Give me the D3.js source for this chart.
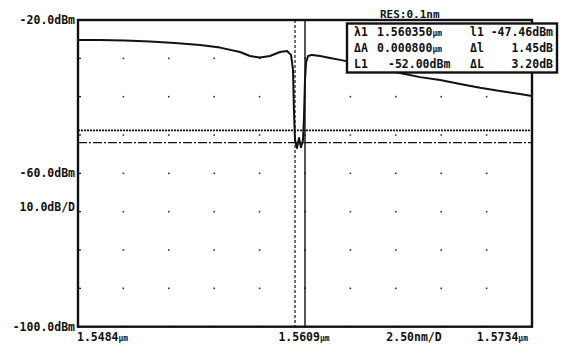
<!DOCTYPE html>
<html>
<head>
<meta charset="utf-8">
<script src="https://cdn.jsdelivr.net/npm/d3@7"></script>
<style>
  html, body { margin: 0; padding: 0; background: #fff; }
  svg { display: block; }
  text { font-family: "DejaVu Sans Mono", "Liberation Mono", monospace; font-weight: bold; fill: #111; }
</style>
</head>
<body>
<svg id="chart" width="563" height="346"></svg>
<script>
// Spectrum trace: wavelength (µm) and level (dBm)
const traceWavelength = [
  1.54840, 1.54961, 1.55099, 1.55236, 1.55374, 1.55512, 1.55622, 1.55732,
  1.55787, 1.55842, 1.55897, 1.55952, 1.55991, 1.56013, 1.56024, 1.56029,
  1.56035, 1.56046, 1.56057, 1.56068, 1.56079, 1.56084, 1.56090, 1.56096,
  1.56107, 1.56129, 1.56173, 1.56228, 1.56283, 1.56393, 1.56503, 1.56613,
  1.56723, 1.56834, 1.56944, 1.57054, 1.57164, 1.57274, 1.57340
];
const traceLevel = [
  -25.2, -25.2, -25.35, -25.6, -26.0, -26.5, -27.2, -28.35,
  -29.4, -29.8, -29.4, -28.35, -28.1, -29.1, -33.0, -43.5,
  -51.3, -53.4, -50.8, -53.2, -51.3, -46.1, -35.6, -31.0,
  -29.4, -29.1, -29.4, -29.9, -30.4, -31.5, -32.8, -33.8,
  -34.9, -35.65, -36.7, -37.7, -38.5, -39.3, -39.8
];

// Instrument settings
const startWl = 1.5484, centerWl = 1.5609, stopWl = 1.5734;
const refLevel = -20, bottomLevel = -100, dbPerDiv = 10;
const xDivisions = 10, yDivisions = 8;

// Markers
const markerWl = 1.560350;       // λ1
const markerLevel = -47.46;      // l1
const deltaWl = 0.000800;        // ΔA
const deltaLevelMarker = 1.45;   // Δl
const lineL1 = -52.00;           // L1
const deltaL = 3.20;             // ΔL

// Axis texts
const yLabels = [
  { v: -20, t: "-20.0dBm" },
  { v: -60, t: "-60.0dBm" },
  { v: -100, t: "-100.0dBm" }
];
const scaleLabel = "10.0dB/D";
const xLabelStart = "1.5484", xLabelCenter = "1.5609", xLabelStop = "1.5734";
const spanLabel = "2.50nm/D";
const resLabel = "RES:0.1nm";

const svg = d3.select("#chart");
const L = 78, R = 532, T = 20, B = 326.7;

const x = d3.scaleLinear().domain([startWl, stopWl]).range([L, R]);
const y = d3.scaleLinear().domain([bottomLevel, refLevel]).range([B, T]);

// grid dots at every division intersection
const xDivVals = d3.range(xDivisions + 1).map(i => startWl + i * (stopWl - startWl) / xDivisions);
const yDivVals = d3.range(yDivisions + 1).map(j => bottomLevel + j * dbPerDiv);
const gridPts = [];
xDivVals.forEach(xv => yDivVals.forEach(yv => gridPts.push([xv, yv])));
svg.append("g").selectAll("rect").data(gridPts).join("rect")
  .attr("x", d => x(d[0]) - 0.8).attr("y", d => y(d[1]) - 0.8)
  .attr("width", 1.6).attr("height", 1.6).attr("fill", "#333");

// left-axis division ticks
svg.append("g").selectAll("line").data(yDivVals).join("line")
  .attr("x1", L).attr("x2", L + 3)
  .attr("y1", d => y(d)).attr("y2", d => y(d))
  .attr("stroke", "#111").attr("stroke-width", 1.2);

// level lines: L1 and L1 + ΔL
svg.append("line")
  .attr("x1", L).attr("x2", R).attr("y1", y(lineL1 + deltaL)).attr("y2", y(lineL1 + deltaL))
  .attr("stroke", "#111").attr("stroke-width", 1.6).attr("stroke-dasharray", "2,1");
svg.append("line")
  .attr("x1", L).attr("x2", R).attr("y1", y(lineL1)).attr("y2", y(lineL1))
  .attr("stroke", "#111").attr("stroke-width", 1.2).attr("stroke-dasharray", "9,2,2,2");

// wavelength marker lines
svg.append("line")
  .attr("x1", x(markerWl)).attr("x2", x(markerWl)).attr("y1", T).attr("y2", B)
  .attr("stroke", "#111").attr("stroke-width", 1.2).attr("stroke-dasharray", "3,2");
svg.append("line")
  .attr("x1", x(centerWl)).attr("x2", x(centerWl)).attr("y1", T).attr("y2", B)
  .attr("stroke", "#111").attr("stroke-width", 1.4);

// spectrum trace
const trace = traceWavelength.map((w, i) => [w, traceLevel[i]]);
svg.append("path").datum(trace)
  .attr("fill", "none").attr("stroke", "#111").attr("stroke-width", 2)
  .attr("stroke-linejoin", "round")
  .attr("d", d3.line().x(d => x(d[0])).y(d => y(d[1])));

// frame
svg.append("rect").attr("x", L).attr("y", T).attr("width", R - L).attr("height", B - T)
  .attr("fill", "none").attr("stroke", "#111").attr("stroke-width", 2.4);

// y labels
svg.append("g").selectAll("text").data(yLabels).join("text")
  .attr("x", L - 3).attr("y", d => y(d.v) + 4)
  .attr("text-anchor", "end").attr("font-size", 11.5)
  .text(d => d.t);
svg.append("text").attr("x", L - 3).attr("y", y(-60) + 38)
  .attr("text-anchor", "end").attr("font-size", 11.5).text(scaleLabel);

// x labels with small µm unit
function wlLabel(g, value, px, anchor) {
  const t = g.append("text").attr("x", px).attr("y", B + 14)
    .attr("text-anchor", anchor).attr("font-size", 11.5);
  t.append("tspan").text(value);
  t.append("tspan").attr("font-size", 8).text("μm");
}
const xl = svg.append("g");
wlLabel(xl, xLabelStart, L - 1, "start");
wlLabel(xl, xLabelCenter, x(centerWl) - 1, "middle");
wlLabel(xl, xLabelStop, R - 4, "end");
xl.append("text").attr("x", 414).attr("y", B + 14).attr("text-anchor", "middle")
  .attr("font-size", 11.5).text(spanLabel);

// marker readout box
const box = svg.append("g");
box.append("text").attr("x", 380).attr("y", 18).attr("font-size", 11).text(resLabel);
box.append("rect").attr("x", 347).attr("y", 23.5).attr("width", 210).attr("height", 49)
  .attr("fill", "#fff").attr("stroke", "#111").attr("stroke-width", 2.4);

const fs = 11.5;
function row(yy, name, valTxt, unit, valX, name2, val2Txt, unit2) {
  box.append("text").attr("x", 354).attr("y", yy).attr("font-size", fs).text(name);
  const t = box.append("text").attr("x", valX).attr("y", yy).attr("font-size", fs);
  t.append("tspan").text(valTxt);
  t.append("tspan").attr("font-size", unit === "μm" ? 8 : fs).text(unit);
  box.append("text").attr("x", 470).attr("y", yy).attr("font-size", fs).text(name2);
  const t2 = box.append("text").attr("x", 553).attr("y", yy).attr("font-size", fs)
    .attr("text-anchor", "end");
  t2.append("tspan").text(val2Txt);
  t2.append("tspan").text(unit2);
}
row(36, "λ1", markerWl.toFixed(6), "μm", 377, "l1", markerLevel.toFixed(2), "dBm");
row(52, "ΔA", deltaWl.toFixed(6), "μm", 377, "Δl", deltaLevelMarker.toFixed(2), "dB");
row(68, "L1", lineL1.toFixed(2), "dBm", 388, "ΔL", deltaL.toFixed(2), "dB");
</script>
</body>
</html>
